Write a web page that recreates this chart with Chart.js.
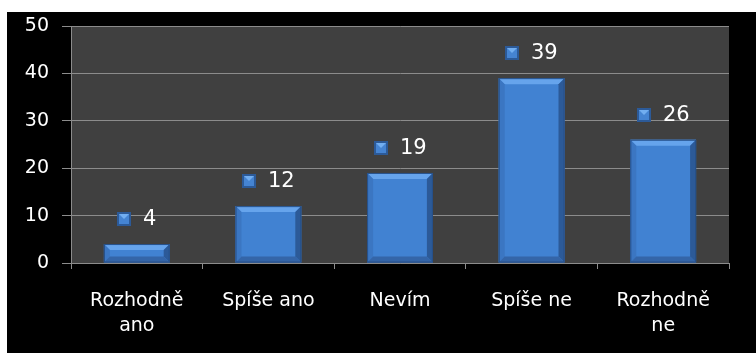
<!DOCTYPE html>
<html>
<head>
<meta charset="utf-8">
<script src="https://cdn.jsdelivr.net/npm/chart.js@4.4.0/dist/chart.umd.min.js"></script>
<style>
  html, body { margin: 0; padding: 0; background: #fff; }
  #box { position: absolute; left: 7px; top: 12px; width: 749px; height: 341px; background: #000; }
</style>
</head>
<body>
<div id="box"><canvas id="graf" width="749" height="341"></canvas></div>
<script>
// kategorie a hodnoty z grafu
const kategorie = [["Rozhodně", "ano"], "Spíše ano", "Nevím", "Spíše ne", ["Rozhodně", "ne"]];
const hodnoty = [4, 12, 19, 39, 26];
const osaY = [0, 10, 20, 30, 40, 50];

// pozadí oblasti grafu
const pozadi = {
  id: "pozadi",
  beforeDraw(chart) {
    const { ctx, chartArea: a } = chart;
    ctx.save();
    ctx.fillStyle = "#404040";
    ctx.fillRect(a.left, a.top, a.right - a.left, a.bottom - a.top);
    ctx.restore();
  }
};

// zkosení sloupců + popisky s klíčem legendy
const popisky = {
  id: "popisky",
  afterDatasetsDraw(chart) {
    const ctx = chart.ctx;
    const meta = chart.getDatasetMeta(0);
    ctx.save();
    meta.data.forEach((bar, i) => {
      const l = bar.x - bar.width / 2, r = bar.x + bar.width / 2;
      const t = bar.y, b = bar.base;
      const bev = Math.min(6, (b - t) / 3);
      // horní hrana
      ctx.fillStyle = "#66a4ec";
      ctx.beginPath();
      ctx.moveTo(l, t); ctx.lineTo(r, t); ctx.lineTo(r - bev, t + bev); ctx.lineTo(l + bev, t + bev); ctx.closePath();
      ctx.fill();
      // levá hrana
      ctx.fillStyle = "#3b76c2";
      ctx.beginPath();
      ctx.moveTo(l, t); ctx.lineTo(l + bev, t + bev); ctx.lineTo(l + bev, b - bev); ctx.lineTo(l, b); ctx.closePath();
      ctx.fill();
      // pravá hrana
      ctx.fillStyle = "#2c5a98";
      ctx.beginPath();
      ctx.moveTo(r, t); ctx.lineTo(r - bev, t + bev); ctx.lineTo(r - bev, b - bev); ctx.lineTo(r, b); ctx.closePath();
      ctx.fill();
      // spodní hrana
      ctx.fillStyle = "#3465a8";
      ctx.beginPath();
      ctx.moveTo(l, b); ctx.lineTo(l + bev, b - bev); ctx.lineTo(r - bev, b - bev); ctx.lineTo(r, b); ctx.closePath();
      ctx.fill();
      ctx.strokeStyle = "#264f88";
      ctx.lineWidth = 1;
      ctx.strokeRect(l + 0.5, t + 0.5, r - l - 1, b - t - 1);

      // popisek
      const txt = String(hodnoty[i]);
      ctx.font = "21px 'DejaVu Sans'";
      const tw = ctx.measureText(txt).width;
      const m = 14, gap = 12;
      const x0 = Math.round(bar.x - (m + gap + tw) / 2);
      const cy = Math.round(t - 25);
      ctx.fillStyle = "#2c5a98";
      ctx.fillRect(x0, cy - m / 2, m, m);
      ctx.fillStyle = "#4584d2";
      ctx.fillRect(x0 + 2, cy - m / 2 + 2, m - 4, m - 4);
      ctx.fillStyle = "#72aef0";
      ctx.beginPath();
      ctx.moveTo(x0 + 2, cy - m / 2 + 2); ctx.lineTo(x0 + m - 2, cy - m / 2 + 2); ctx.lineTo(x0 + m / 2, cy); ctx.closePath();
      ctx.fill();
      ctx.fillStyle = "#fff";
      ctx.textAlign = "left";
      ctx.textBaseline = "middle";
      ctx.fillText(txt, x0 + m + gap, cy + 1);
    });
    ctx.restore();
  }
};

new Chart(document.getElementById("graf"), {
  type: "bar",
  data: {
    labels: kategorie,
    datasets: [{
      data: hodnoty,
      backgroundColor: "#4182d2",
      borderWidth: 0,
      barPercentage: 1,
      categoryPercentage: 0.5
    }]
  },
  options: {
    responsive: false,
    animation: false,
    layout: { padding: { top: 14, right: 27, left: 0, bottom: 0 } },
    plugins: { legend: { display: false }, tooltip: { enabled: false } },
    scales: {
      x: {
        offset: true,
        grid: { offset: true, drawOnChartArea: false, color: "#8c8c8c", tickLength: 6 },
        border: { color: "#8c8c8c" },
        ticks: { color: "#fff", font: { family: "DejaVu Sans", size: 19, lineHeight: 1.3 }, padding: 20, maxRotation: 0 },
        afterFit(s) { s.height = 90; s.paddingLeft = 0; s.paddingRight = 0; }
      },
      y: {
        min: 0, max: 50,
        afterBuildTicks(s) { s.ticks = osaY.map(v => ({ value: v })); },
        grid: { color: "#8c8c8c", tickLength: 9 },
        border: { color: "#8c8c8c" },
        ticks: { color: "#fff", font: { family: "DejaVu Sans", size: 19 }, padding: 13 },
        afterFit(s) { s.width = 64; s.paddingTop = 0; s.paddingBottom = 0; }
      }
    }
  },
  plugins: [pozadi, popisky]
});
</script>
</body>
</html>
